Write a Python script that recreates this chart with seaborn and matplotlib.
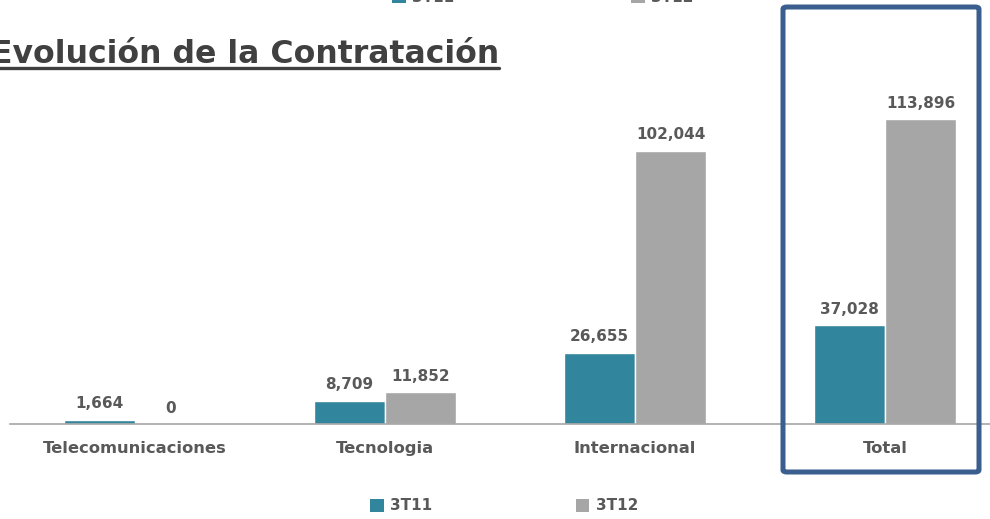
import pandas as pd
import matplotlib.pyplot as plt
import seaborn as sns
from matplotlib.lines import Line2D
from matplotlib.patches import FancyBboxPatch, Patch

categorias = ["Telecomunicaciones", "Tecnologia", "Internacional", "Total"]
valores_3t11 = [1664, 8709, 26655, 37028]
valores_3t12 = [0, 11852, 102044, 113896]
series = ["3T11", "3T12"]
colores = ["#31859C", "#A6A6A6"]

df = pd.DataFrame({
    "categoria": categorias * 2,
    "serie": [series[0]] * 4 + [series[1]] * 4,
    "valor": valores_3t11 + valores_3t12,
})

sns.set_style("white")
plt.rcParams['font.family'] = ['DejaVu Sans']

W, H = 990, 519
fig = plt.figure(figsize=(W / 100, H / 100), dpi=100)
# axes runs past the right edge like the original crop
ax = fig.add_axes([10 / W, (H - 424) / H, 1000 / W, 344 / H])

sns.barplot(data=df, x="categoria", y="valor", hue="serie", palette=colores,
            width=0.568, ax=ax, legend=False, saturation=1)
ax.set_ylim(0, 344 / 2.678 * 1000)
ax.set_xlim(-0.5, 3.5)

for cont in ax.containers:
    ax.bar_label(cont, fmt="{:,.0f}", padding=6, fontsize=11,
                 fontweight="bold", color="#595959")

for s in ["left", "top", "right"]:
    ax.spines[s].set_visible(False)
ax.spines["bottom"].set_color("#A6A6A6")
ax.spines["bottom"].set_linewidth(1.2)
ax.set_yticks([])
ax.set_xlabel("")
ax.set_ylabel("")
ax.tick_params(axis="x", which="major", length=0, pad=12, labelsize=11.8,
               labelcolor="#595959")
for lbl in ax.get_xticklabels():
    lbl.set_fontweight("bold")
ax.set_xticks([-0.5, 0.5, 1.5, 2.5, 3.5], minor=True)
ax.tick_params(axis="x", which="minor", length=5, color="#A6A6A6", width=1)

# title with underline
titulo = fig.text(-9 / W, 1 - 63 / H, "Evolución de la Contratación",
                  fontsize=22.7, fontweight="bold", color="#404040", va="baseline")
fig.canvas.draw()
bb = titulo.get_window_extent()
fig.add_artist(Line2D([bb.x0 / W, bb.x1 / W], [1 - 67.5 / H, 1 - 67.5 / H],
                      transform=fig.transFigure, color="#404040", lw=2.4))

# legends (bottom, and the cut-off one at the top)
handles = [Patch(facecolor=c, edgecolor="none") for c in colores]
for x, y, cs in [(504, 13, 9.4), (543, -3, 11.6)]:
    fig.legend(handles, series, loc="center", bbox_to_anchor=(x / W, 1 - y / H if y < 0 else y / H),
               ncol=2, frameon=False, columnspacing=cs, handlelength=0.9,
               handleheight=0.9, handletextpad=0.4,
               prop={"weight": "bold", "size": 11}, labelcolor="#595959")

# highlight box around Total
caja = FancyBboxPatch((783 / W, 1 - 472 / H), 196 / W, 465 / H,
                      boxstyle="round,pad=0,rounding_size=0.004",
                      transform=fig.transFigure, fill=False,
                      edgecolor="#3A5F8E", lw=3.6)
fig.add_artist(caja)

fig.savefig("out.png", dpi=100)
